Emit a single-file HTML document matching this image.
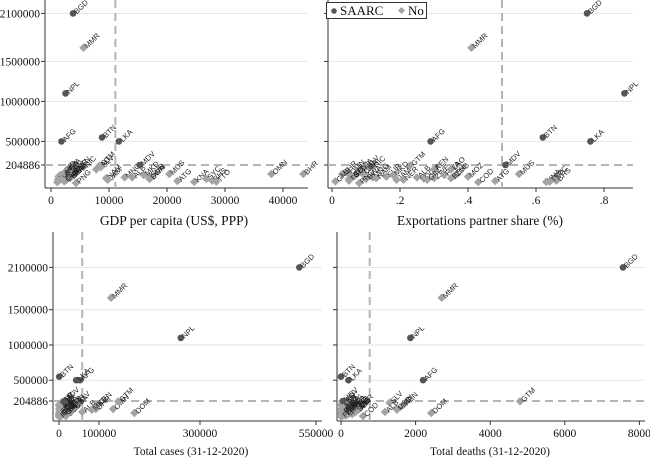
<!DOCTYPE html>
<html><head><meta charset="utf-8">
<style>
html,body{margin:0;padding:0;background:#fff;}
svg{display:block;}
.tick{font-family:"Liberation Serif",serif;font-size:11.5px;fill:#111;}
.title{font-family:"Liberation Serif",serif;fill:#111;}
.pl{font-family:"Liberation Sans",sans-serif;font-size:7.5px;fill:#222;}
</style></head>
<body>
<svg id="chart" width="650" height="458" viewBox="0 0 650 458" xmlns="http://www.w3.org/2000/svg"></svg>
<script>
const countries = ["BGD","NPL","AFG","BTN","LKA","MDV","MMR","OMN","BHR","MUS","ATG","KNA","SYC","BHS","TTO","GTM","DOM","KEN","COD","MOZ","NIC","ZWE","MNG","SUR","NAM","JAM","MDG","MLI","NER","TZA","UGA","RWA","BWA","ZMB","LAO","SLV","HTI","CMR","SEN","GIN","BEN","TGO","GMB","PNG","ALB","MKD"];
const groups = ["S","S","S","S","S","S","N","N","N","N","N","N","N","N","N","N","N","N","N","N","N","N","N","N","N","N","N","N","N","N","N","N","N","N","N","N","N","N","N","N","N","N","N","N","N","N"];
const yValues = [2100000,1100000,500000,550000,500000,205000,1670000,92000,92000,92000,5000,-6000,30000,10000,-3000,200000,35000,150000,-10000,60000,180000,40000,50000,60000,40000,20000,80000,60000,20000,140000,100000,80000,30000,70000,150000,180000,30000,100000,60000,20000,40000,10000,0,-20000,50000,80000];
const gdp = [3800,2500,1800,8800,11700,15300,5600,38000,43500,20400,21800,24700,26800,27800,28500,8400,17000,4300,1100,1300,5600,2900,12700,17000,9500,9800,1600,2300,1200,2800,2200,2200,17000,3500,7800,8600,1800,3700,3500,2700,3300,2200,2300,4300,14000,16000];
const exportShare = [0.75,0.86,0.29,0.62,0.76,0.51,0.41,0.05,0.03,0.55,0.48,0.63,0.65,0.66,0.64,0.23,0.27,0.30,0.43,0.40,0.12,0.30,0.12,0.16,0.13,0.19,0.07,0.06,0.21,0.08,0.09,0.33,0.10,0.36,0.35,0.10,0.05,0.09,0.06,0.28,0.35,0.05,0.01,0.08,0.25,0.18];
const cases = [514000,262000,52000,500,43000,13000,124000,128000,92000,530,160,32,200,8000,7000,138000,170000,96000,17000,18000,6000,14000,1200,6000,25000,13000,17800,7000,3300,500,35000,8400,14000,20000,40,45000,10000,26000,19000,14000,3200,3600,3800,800,58000,82000];
const deaths = [7560,1860,2200,0,200,48,2700,1500,350,10,5,0,1,170,120,4800,2420,1670,590,166,165,360,2,120,220,300,260,270,100,21,250,90,40,390,0,1300,236,450,410,81,44,68,124,9,1180,1500];
const yTickVals = [204886,500000,1000000,1500000,2100000];
const gdpTicks = [0,10000,20000,30000,40000];
const expTicks = [0,0.2,0.4,0.6,0.8];
const expTickLabels = ["0",".2",".4",".6",".8"];
const casesTicks = [0,100000,300000,550000];
const deathsTicks = [0,2000,4000,6000,8000];
const refY = 204886, refGdp = 11100, refExp = 0.5, refCases = 58000, refDeaths = 770;

const NS="http://www.w3.org/2000/svg";
const svg=document.getElementById('chart');
function mk(tag,attrs,parent){const e=document.createElementNS(NS,tag);for(const k in attrs)e.setAttribute(k,attrs[k]);(parent||svg).appendChild(e);return e;}

const yTop = v => 165 - (v-204886)*0.00008;
const yBot = v => 401 - (v-204886)*0.0000705;
const xGdp = v => 51 + v*0.0058;
const xExp = v => 332 + v*340;
const casesPx=[59,99,200,316];
const xCases = v => {
  let i=0; while(i<casesTicks.length-2 && v>casesTicks[i+1]) i++;
  const a=casesTicks[i],b=casesTicks[i+1];
  return casesPx[i]+(v-a)/(b-a)*(casesPx[i+1]-casesPx[i]);
};
const xDeaths = v => 341 + v*0.0373;

function panel(cfg){
  const g=mk('g',{});
  
  
  yTickVals.slice(1).forEach(t=>{
    const l=mk('line',{x1:cfg.x0,x2:cfg.x1,y1:cfg.ys(t),y2:cfg.ys(t),stroke:'#e6e6e6','stroke-width':1},g);
    
    
  });
  const ya=mk('line',{x1:cfg.x0,x2:cfg.x0,y1:cfg.yt,y2:cfg.yb,stroke:'#333','stroke-width':1},g);
  
  
  const xa=mk('line',{x1:cfg.x0,x2:cfg.x1,y1:cfg.yb,y2:cfg.yb,stroke:'#333','stroke-width':1},g);
  
  
  yTickVals.forEach(t=>{
    mk('line',{x1:cfg.x0-4,x2:cfg.x0,y1:cfg.ys(t),y2:cfg.ys(t),stroke:'#333'},g);
    if(cfg.ylabels){
      const tx=mk('text',{x:cfg.x0-5,y:cfg.ys(t)+4,'text-anchor':'end',class:'tick'},g);
      tx.textContent=String(t);
      
      
    }
  });
  cfg.xt.forEach((t,i)=>{
    const x=cfg.xs(t);
    mk('line',{x1:x,x2:x,y1:cfg.yb,y2:cfg.yb+4,stroke:'#333'},g);
    const tx=mk('text',{x:x,y:cfg.yb+16,'text-anchor':'middle',class:'tick'},g);
    tx.textContent=cfg.xl?cfg.xl[i]:String(t);
    
    
  });
  const tt=mk('text',{x:cfg.tx,y:cfg.ty,'text-anchor':'middle',class:'title','font-size':cfg.tfs},g);
  tt.textContent=cfg.title;
  
  
  const hy=cfg.ys(refY);
  const h=mk('line',{x1:cfg.x0,x2:cfg.x1,y1:hy,y2:hy,stroke:'#b5b5b5','stroke-width':2,'stroke-dasharray':'8,5'},g);
  
  
  const vx=cfg.xs(cfg.ref);
  const v=mk('line',{x1:vx,x2:vx,y1:cfg.yt,y2:cfg.yb,stroke:'#b5b5b5','stroke-width':2,'stroke-dasharray':'8,5'},g);
  
  
  const order=[...countries.keys()].sort((a,b)=>(groups[a]==='S')-(groups[b]==='S'));
  order.forEach(i=>{
    const px=cfg.xs(cfg.vals[i]), py=cfg.ys(yValues[i]);
    let m;
    if(groups[i]==='S'){
      m=mk('circle',{cx:px,cy:py,r:3.3,fill:'#555'},g);
      
    } else {
      m=mk('rect',{x:px-3,y:py-3,width:6,height:6,fill:'#a3a3a3',transform:`rotate(45 ${px} ${py})`},g);
      
    }
    
    const lx=px+4, ly=py+1;
    const lb=mk('text',{x:lx,y:ly,class:'pl',transform:`rotate(-45 ${lx} ${ly})`},g);
    lb.textContent=countries[i];
    
    
  });
}

panel({name:'panel-gdp',x0:45,x1:308,yt:0,yb:188,ys:yTop,xs:xGdp,xt:gdpTicks,vals:gdp,ref:refGdp,ylabels:true,title:'GDP per capita (US$, PPP)',tx:174,ty:225,tfs:13.5});
panel({name:'panel-exports',x0:328,x1:633,yt:0,yb:188,ys:yTop,xs:xExp,xt:expTicks,xl:expTickLabels,vals:exportShare,ref:refExp,ylabels:false,title:'Exportations partner share (%)',tx:480,ty:225,tfs:13.5});
panel({name:'panel-cases',x0:53,x1:322,yt:232,yb:421,ys:yBot,xs:xCases,xt:casesTicks,vals:cases,ref:refCases,ylabels:true,title:'Total cases (31-12-2020)',tx:191,ty:455,tfs:11.5});
panel({name:'panel-deaths',x0:337,x1:645,yt:232,yb:421,ys:yBot,xs:xDeaths,xt:deathsTicks,vals:deaths,ref:refDeaths,ylabels:false,title:'Total deaths (31-12-2020)',tx:490,ty:455,tfs:11.5});

const lg=mk('g',{});


mk('rect',{x:326.5,y:2.5,width:100,height:16,fill:'#fff',stroke:'#333'},lg);
const e1=mk('g',{},lg);


mk('circle',{cx:334,cy:11,r:2.8,fill:'#555'},e1);
const t1=mk('text',{x:340,y:15,class:'title','font-size':13},e1);t1.textContent='SAARC';
const e2=mk('g',{},lg);


mk('rect',{x:399,y:8,width:5,height:5,fill:'#a3a3a3',transform:'rotate(45 401.5 10.5)'},e2);
const t2=mk('text',{x:408,y:15,class:'title','font-size':13},e2);t2.textContent='No';
</script>
</body></html>
